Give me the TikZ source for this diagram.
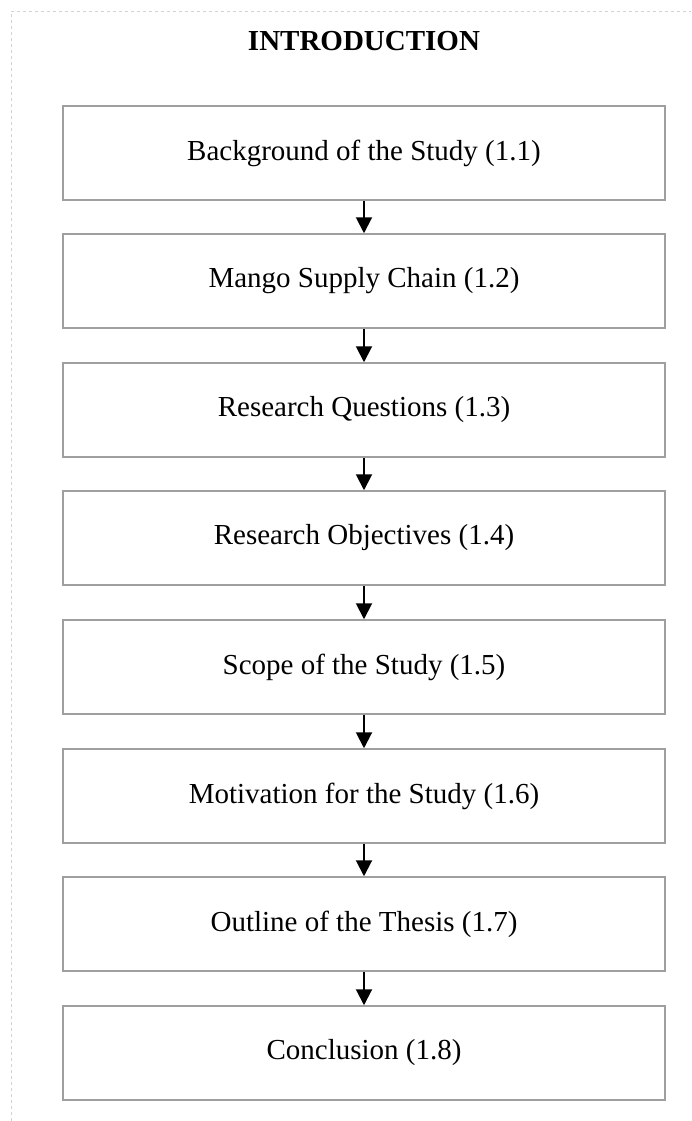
\documentclass[tikz,border=0pt]{standalone}
\usepackage{fontspec}
\setmainfont{Liberation Serif}
\usetikzlibrary{arrows.meta}
\tikzset{
  secbox/.style={draw=gray!75, line width=1.5pt, minimum width=602pt, minimum height=94pt, font=\fontsize{29}{33}\selectfont},
  flow/.style={line width=2pt, -{Triangle[length=16pt,width=16pt]}}
}
\begin{document}
\begin{tikzpicture}[x=1pt,y=1pt]
\useasboundingbox (0,0) rectangle (691,-1121);
\draw[gray!35, dashed, line width=0.8pt] (11,-1121) -- (11,-11) -- (691,-11); %frame
\node[font=\fontsize{29}{33}\selectfont\bfseries] (title) at (364,-41) {INTRODUCTION};

\node[secbox] (s1) at (364,-153) {Background of the Study (1.1)};
\node[secbox] (s2) at (364,-281) {Mango Supply Chain (1.2)};
\node[secbox] (s3) at (364,-410) {Research Questions (1.3)};
\node[secbox] (s4) at (364,-538) {Research Objectives (1.4)};
\node[secbox] (s5) at (364,-667) {Scope of the Study (1.5)};
\node[secbox] (s6) at (364,-796) {Motivation for the Study (1.6)};
\node[secbox] (s7) at (364,-924) {Outline of the Thesis (1.7)};
\node[secbox] (s8) at (364,-1053) {Conclusion (1.8)};

%arrows between sections
\draw[flow] (s1) -- (s2);
\draw[flow] (s2) -- (s3);
\draw[flow] (s3) -- (s4);
\draw[flow] (s4) -- (s5);
\draw[flow] (s5) -- (s6);
\draw[flow] (s6) -- (s7);
\draw[flow] (s7) -- (s8);
\end{tikzpicture}
\end{document}
